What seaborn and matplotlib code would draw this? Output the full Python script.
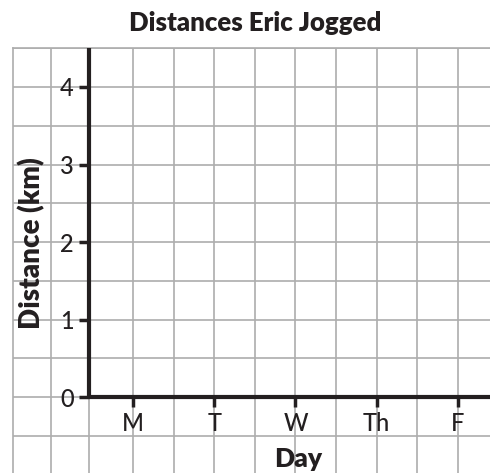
import numpy as np
import matplotlib
matplotlib.use("Agg")
import matplotlib.pyplot as plt
import seaborn as sns

# Chart content
title = "Distances Eric Jogged"
x_label = "Day"
y_label = "Distance (km)"
days = ["M", "T", "W", "Th", "F"]
distance_ticks = [0, 1, 2, 3, 4]

sns.set_style("white")
plt.rcParams["font.family"] = ["Lato", "DejaVu Sans"]

ink = "#231f20"
grid_col = "#adadad"

W, H = 490, 473
fig = plt.figure(figsize=(W / 100, H / 100), dpi=100)

def frac_box(x0, y0, x1, y1):
    """Pixel box (left, top, right, bottom) -> figure fraction rect."""
    return [x0 / W, 1 - y1 / H, (x1 - x0) / W, (y1 - y0) / H]

day_pos = np.arange(len(days))
x_lo, x_hi = -1.477, 4.394
x_origin = -0.54
y_lo, y_hi = -0.98, 4.503

# Background graph paper: half-unit squares (two margin columns on the left)
bg = fig.add_axes(frac_box(13, 48, 490, 473))
bg.set_xlim(x_lo, x_hi)
bg.set_ylim(y_lo, y_hi)
bg.set_xticks([-1.01, x_origin] + list(np.arange(0, x_hi, 0.5)))
bg.set_yticks(np.arange(-0.5, 4.51, 0.5))
bg.tick_params(length=0, labelbottom=False, labelleft=False)
bg.grid(True, color=grid_col, linewidth=1.2)
for side in ["right", "bottom"]:
    bg.spines[side].set_visible(False)
for side in ["top", "left"]:
    bg.spines[side].set_color(grid_col)
    bg.spines[side].set_linewidth(1.2)
bg.set_axisbelow(True)

# Data axes with origin on the third grid column
x_axis_px = 13 + (x_origin - x_lo) / (x_hi - x_lo) * (490 - 13)
y_axis_px = 48 + (y_hi - 0) / (y_hi - y_lo) * (473 - 48)
ax = fig.add_axes(frac_box(x_axis_px, 48, 490, y_axis_px))
ax.patch.set_alpha(0)
ax.set_xlim(x_origin, x_hi)
ax.set_ylim(0, y_hi)
sns.despine(ax=ax)
for side in ["left", "bottom"]:
    ax.spines[side].set_color(ink)
    ax.spines[side].set_linewidth(3.0)
    ax.spines[side].set_capstyle("butt")
ax.set_xticks(day_pos)
ax.set_xticklabels(days)
ax.set_yticks(distance_ticks)
ax.set_yticklabels([str(v) for v in distance_ticks])
ax.tick_params(axis="both", which="major", direction="out", length=7.5,
               width=2.5, color=ink, labelcolor=ink, labelsize=17,
               bottom=True, left=True)
ax.tick_params(axis="y", pad=3.5)
ax.tick_params(axis="x", pad=3)
for lab in ax.get_xticklabels() + ax.get_yticklabels():
    lab.set_fontweight("medium")

fig.text(255.5 / W, 1 - 31 / H, title, ha="center", va="baseline",
         fontsize=18.5, fontweight="heavy", color=ink)
fig.text(31.5 / W, 1 - 243.5 / H, y_label, ha="center", va="center",
         rotation=90, fontsize=20, fontweight="heavy", color=ink)
fig.text(298.5 / W, 1 - 467 / H, x_label, ha="center", va="baseline",
         fontsize=19, fontweight="heavy", color=ink)

fig.savefig("out.png", dpi=100)
